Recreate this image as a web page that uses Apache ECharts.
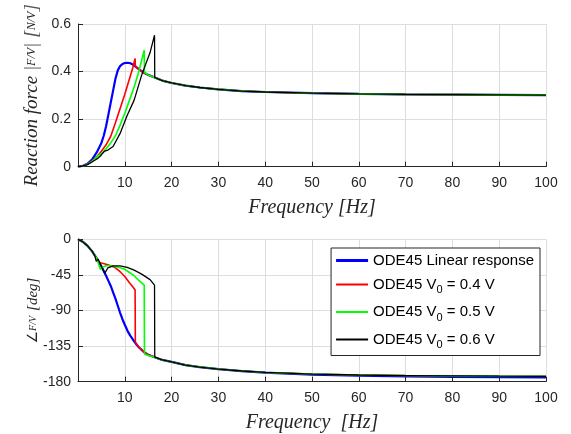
<!DOCTYPE html>
<html><head><meta charset="utf-8">
<script src="https://cdn.jsdelivr.net/npm/echarts@6/dist/echarts.min.js"></script>
<style>html,body{margin:0;padding:0;background:#fff}#c{width:571px;height:434px}</style>
</head><body><div id="c"></div>
<script>
// ---- data ----
const seriesNames = ['ODE45 Linear response', 'ODE45 V0 = 0.4 V', 'ODE45 V0 = 0.5 V', 'ODE45 V0 = 0.6 V'];
const seriesColors = ['#0000ff', '#ff0000', '#00ff00', '#000000'];

const xTicks = [0, 10, 20, 30, 40, 50, 60, 70, 80, 90, 100];
const magTicks = [0, 0.2, 0.4, 0.6];
const phaseTicks = [-180, -135, -90, -45, 0];

// common tail (all responses merge after the jump)
const tailFreq  = [18, 20, 23, 26, 30, 35, 40, 50, 60, 70, 80, 90, 100];
const tailMag   = [0.362, 0.352, 0.341, 0.333, 0.325, 0.318, 0.314, 0.309, 0.306, 0.304, 0.303, 0.302, 0.301];
const tailPhase = [-152.5, -155, -159, -161.5, -164, -166.5, -168.3, -170.3, -171.5, -172.2, -172.7, -173, -173.2];
const blueTailPhase = [-152.5, -155, -159, -161.5, -164, -166.7, -168.6, -171, -172.5, -173.3, -173.8, -174.2, -174.5];

const blueFreq  = [0, 1, 2, 3, 4, 5, 5.5, 6, 6.5, 7, 7.5, 8, 8.5, 9, 9.5, 10, 10.6, 11.2, 12, 12.5, 13, 14, 15, 16.4];
const blueMag   = [0, 0.003, 0.012, 0.03, 0.06, 0.1, 0.13, 0.17, 0.22, 0.27, 0.32, 0.37, 0.405, 0.423, 0.432, 0.436, 0.437, 0.435, 0.426, 0.418, 0.41, 0.396, 0.386, 0.375];
const bluePhase = [0, -3, -8, -15, -24, -34, -40, -46, -52.5, -59, -67, -75, -84, -93, -101, -108, -116, -122, -129, -133, -136.5, -142, -146, -149];

const redFreq  = [0, 1, 2, 3, 4, 4.5, 5, 6, 7, 8, 9, 10, 11, 11.7, 12.2, 12.25, 13, 14, 15, 16.4];
const redMag   = [0, 0.003, 0.01, 0.024, 0.042, 0.053, 0.065, 0.092, 0.128, 0.185, 0.245, 0.305, 0.37, 0.415, 0.455, 0.422, 0.41, 0.396, 0.386, 0.375];
const redPhase = [0, -3, -8, -15, -24, -29, -30, -31.5, -33.5, -36, -41, -47, -55, -60, -64, -130, -136.5, -142, -146, -149];

const greenFreq  = [0, 1, 2, 3, 4, 4.5, 4.8, 5.3, 6, 7, 8, 9, 10, 11, 12, 13, 14.15, 14.2, 15, 16.4];
const greenMag   = [0, 0.003, 0.01, 0.022, 0.04, 0.049, 0.054, 0.06, 0.075, 0.1, 0.13, 0.175, 0.225, 0.28, 0.335, 0.4, 0.49, 0.397, 0.386, 0.375];
const greenPhase = [0, -3, -8, -15, -24, -33, -38, -35, -33.5, -33.5, -34.5, -36, -38, -42, -46, -52, -58, -145, -147, -149];

const blackFreq  = [0, 1, 2, 3, 3.6, 3.9, 4.3, 4.8, 5.2, 5.7, 6.4, 7.5, 9, 10.5, 12, 13.6, 15.4, 16.35, 16.4];
const blackMag   = [0, 0.003, 0.009, 0.02, 0.027, 0.031, 0.036, 0.045, 0.055, 0.066, 0.07, 0.085, 0.14, 0.215, 0.28, 0.385, 0.48, 0.553, 0.375];
const blackPhase = [0, -3, -8, -15, -21, -28, -25, -32, -30, -43, -36, -33.5, -33.5, -35.5, -39, -44, -51, -58, -149];

// ---- build ----
function pairs(xs, ys) { return xs.map((x, i) => [x, ys[i]]); }
const magData = [
  pairs(blueFreq.concat(tailFreq), blueMag.concat(tailMag)),
  pairs(redFreq.concat(tailFreq), redMag.concat(tailMag)),
  pairs(greenFreq.concat(tailFreq), greenMag.concat(tailMag)),
  pairs(blackFreq.concat(tailFreq), blackMag.concat(tailMag))
];
const phaseData = [
  pairs(blueFreq.concat(tailFreq), bluePhase.concat(blueTailPhase)),
  pairs(redFreq.concat(tailFreq), redPhase.concat(tailPhase)),
  pairs(greenFreq.concat(tailFreq), greenPhase.concat(tailPhase)),
  pairs(blackFreq.concat(tailFreq), blackPhase.concat(tailPhase))
];
const widths = [2.2, 1.6, 1.6, 1.3];
const legendIcons = ['path://M0,0H32V3H0Z', 'path://M0,0H32V2H0Z', 'path://M0,0H32V2H0Z', 'path://M0,0H32V2H0Z'];

const axisColor = '#262626';
const gridColor = '#dedede';
const serif = 'Liberation Serif';

function xAxis(gi, name) {
  return {
    type: 'value', gridIndex: gi, min: xTicks[0], max: xTicks[xTicks.length - 1], interval: xTicks[1] - xTicks[0],
    name: name, nameLocation: 'middle', nameGap: 31, nameMoveOverlap: false,
    nameTextStyle: { fontFamily: serif, fontStyle: 'italic', fontSize: 20, color: axisColor },
    axisLine: { show: true, onZero: false, lineStyle: { color: axisColor, width: 1 } },
    axisTick: { show: true, inside: true, length: 5, lineStyle: { color: axisColor } },
    axisLabel: { color: axisColor, fontSize: 14, fontFamily: 'Liberation Sans', margin: 9,
      formatter: v => (v === 0 ? '' : String(v)) },
    splitLine: { show: true, lineStyle: { color: gridColor, width: 1 } }
  };
}
function yAxis(gi, ticks, name, rich, gap) {
  return {
    type: 'value', gridIndex: gi, min: ticks[0], max: ticks[ticks.length - 1], interval: ticks[1] - ticks[0],
    name: name, nameLocation: 'middle', nameGap: gap, nameRotate: 90, nameMoveOverlap: false,
    nameTextStyle: { fontFamily: serif, fontStyle: 'italic', fontSize: 20, color: axisColor, rich: rich },
    axisLine: { show: true, onZero: false, lineStyle: { color: axisColor, width: 1 } },
    axisTick: { show: true, inside: true, length: 5, lineStyle: { color: axisColor } },
    axisLabel: { color: axisColor, fontSize: 14, fontFamily: 'Liberation Sans', margin: 7,
      formatter: v => String(Math.round(v * 10) / 10) },
    splitLine: { show: true, lineStyle: { color: gridColor, width: 1 } }
  };
}

const series = [];
for (let i = 0; i < 4; i++) {
  series.push({ name: seriesNames[i], type: 'line', xAxisIndex: 0, yAxisIndex: 0, data: magData[i],
    symbol: 'none', lineStyle: { color: seriesColors[i], width: widths[i] }, itemStyle: { color: seriesColors[i] }, z: 2 + i });
}
for (let i = 0; i < 4; i++) {
  series.push({ name: seriesNames[i], type: 'line', xAxisIndex: 1, yAxisIndex: 1, data: phaseData[i],
    symbol: 'none', lineStyle: { color: seriesColors[i], width: widths[i] }, itemStyle: { color: seriesColors[i] }, z: 2 + i });
}

const option = {
  animation: false,
  backgroundColor: '#ffffff',
  grid: [
    { left: 78, right: 25, top: 24, height: 142.7, containLabel: false, outerBoundsMode: 'none' },
    { left: 78, right: 25, top: 239.3, height: 142.4, containLabel: false, outerBoundsMode: 'none' }
  ],
  xAxis: [xAxis(0, 'Frequency [Hz]'), xAxis(1, 'Frequency  [Hz]')],
  yAxis: [
    yAxis(0, magTicks, '{n|Reaction force }{b||}{s|F/V}{b||} {b|[}{s|N/V}{b|]}',
      { n: { fontFamily: serif, fontStyle: 'italic', fontSize: 19, color: axisColor },
        b: { fontFamily: serif, fontSize: 19, color: '#555555' },
        s: { fontFamily: serif, fontStyle: 'italic', fontSize: 12, color: axisColor } }, 36),
    yAxis(1, phaseTicks, '{a|∠}{s|F/V} {n|[deg]}',
      { n: { fontFamily: serif, fontStyle: 'italic', fontSize: 15, color: axisColor },
        a: { fontFamily: 'DejaVu Sans', fontSize: 14, color: axisColor },
        s: { fontFamily: serif, fontStyle: 'italic', fontSize: 10, color: axisColor } }, 35)
  ],
  legend: {
    orient: 'vertical', top: 248, right: 31,
    backgroundColor: '#ffffff', borderColor: '#262626', borderWidth: 1, borderRadius: 0,
    padding: [5, 6, 5, 5], itemGap: 9, itemWidth: 32, itemHeight: 14,
    data: seriesNames.map((n, i) => ({ name: n, icon: legendIcons[i] })),
    textStyle: { fontSize: 15, fontFamily: 'Liberation Sans', color: '#000000',
      rich: {
        t: { fontSize: 15, fontFamily: 'Liberation Sans', color: '#000', lineHeight: 22, verticalAlign: 'middle' },
        s: { fontSize: 11, fontFamily: 'Liberation Sans', color: '#000', lineHeight: 11, verticalAlign: 'bottom' }
      } },
    formatter: function (name) {
      const m = name.match(/^ODE45 V0(.*)$/);
      if (m) return '{t|ODE45 V}{s|0}{t|' + m[1] + '}';
      return name;
    }
  },
  series: series
};

const chart = echarts.init(document.getElementById('c'), null, { renderer: 'canvas' });
chart.setOption(option);
</script>
</body></html>
